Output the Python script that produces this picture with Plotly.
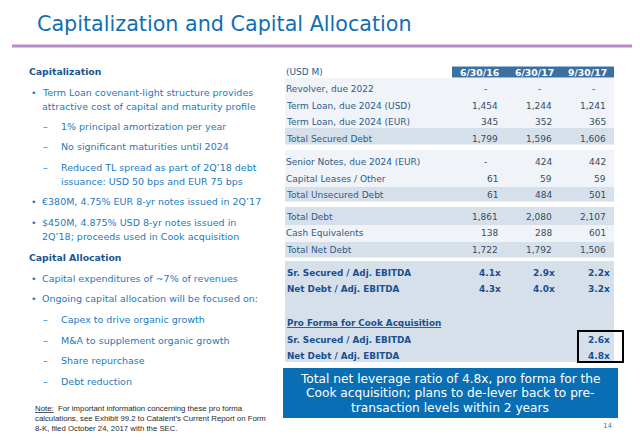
import plotly.graph_objects as go

# ---------------- data ----------------
title = "Capitalization and Capital Allocation"
col_headers = ["6/30/16", "6/30/17", "9/30/17"]
unit_label = "(USD M)"

debt_labels = ["Revolver, due 2022", "Term Loan, due 2024 (USD)", "Term Loan, due 2024 (EUR)",
               "Total Secured Debt", "Senior Notes, due 2024 (EUR)", "Capital Leases / Other",
               "Total Unsecured Debt", "Total Debt", "Cash Equivalents", "Total Net Debt"]
debt_6_30_16 = ["-", "1,454", "345", "1,799", "-", "61", "61", "1,861", "138", "1,722"]
debt_6_30_17 = ["-", "1,244", "352", "1,596", "424", "59", "484", "2,080", "288", "1,792"]
debt_9_30_17 = ["-", "1,241", "365", "1,606", "442", "59", "501", "2,107", "601", "1,506"]

ratio_labels = ["Sr. Secured / Adj. EBITDA", "Net Debt / Adj. EBITDA"]
ratio_6_30_16 = ["4.1x", "4.3x"]
ratio_6_30_17 = ["2.9x", "4.0x"]
ratio_9_30_17 = ["2.2x", "3.2x"]

proforma_title = "Pro Forma for Cook Acquisition"
proforma_labels = ["Sr. Secured / Adj. EBITDA", "Net Debt / Adj. EBITDA"]
proforma_9_30_17 = ["2.6x", "4.8x"]

left_lines = [
    ("h", "Capitalization"),
    ("b", "Term Loan covenant-light structure provides"),
    ("c", "attractive cost of capital and maturity profile"),
    ("d", "1% principal amortization per year"),
    ("d", "No significant maturities until 2024"),
    ("d", "Reduced TL spread as part of 2Q\u201918 debt"),
    ("dc", "issuance: USD 50 bps and EUR 75 bps"),
    ("b", "\u20ac380M, 4.75% EUR 8-yr notes issued in 2Q\u201917"),
    ("b", "$450M, 4.875% USD 8-yr notes issued in"),
    ("c", "2Q\u201918; proceeds used in Cook acquisition"),
    ("h", "Capital Allocation"),
    ("b", "Capital expenditures of ~7% of revenues"),
    ("b", "Ongoing capital allocation will be focused on:"),
    ("d", "Capex to drive organic growth"),
    ("d", "M&A to supplement organic growth"),
    ("d", "Share repurchase"),
    ("d", "Debt reduction"),
]
note_lines = ["<u>Note:</u>  For important information concerning these pro forma",
              "calculations, see Exhibit 99.2 to Catalent\u2019s Current Report on Form",
              "8-K, filed October 24, 2017 with the SEC."]
callout_lines = ["Total net leverage ratio of 4.8x, pro forma for the",
                 "Cook acquisition; plans to de-lever back to pre-",
                 "transaction levels within 2 years"]
page_number = "14"

# ---------------- layout / styles ----------------
FONT = "DejaVu Sans"
BLUE_TITLE = "rgb(18,110,180)"
HEAD_BLUE = "rgb(25,85,145)"
TEXT_BLUE = "rgb(35,122,192)"
LABEL_BLUE = "rgb(45,92,138)"
VAL_COL = "rgb(55,75,95)"
RATIO_BLUE = "rgb(25,80,145)"
LIGHT = "rgb(240,243,247)"
DARK = "rgb(214,224,234)"

left_y = [71, 92, 106, 126.7, 146.7, 167.7, 181, 201.7, 222.7, 236.7,
          257.3, 278.3, 298.3, 319, 340, 360.7, 381]
debt_y = [89, 105.7, 122.3, 139, 162.3, 179, 195, 216.7, 233.3, 250]
ratio_y = [272.7, 289.3]
pf_title_y = 323.3
pf_y = [340, 356]
col_right = [500, 554, 608.3]
ratio_right = [502.7, 557, 611.7]
col_center = [479, 534, 587]

fig = go.Figure()
fig.add_trace(go.Scatter(x=[8, 640], y=[8, 441], mode="markers",
                         marker=dict(opacity=0), hoverinfo="skip", showlegend=False))

shapes = []
def rect(x0, y0, x1, y1, color, line=None):
    d = dict(type="rect", xref="x", yref="y", x0=x0, y0=y0, x1=x1, y1=y1,
             fillcolor=color, layer="below")
    d["line"] = line if line else dict(width=0)
    shapes.append(d)

# purple rule
shapes.append(dict(type="line", xref="x", yref="y", x0=12, x1=640, y0=46, y1=46,
                   line=dict(color="rgb(182,142,196)", width=3)))
# table backgrounds
TX0, TX1 = 285, 614
rect(TX0, 78, TX1, 128, LIGHT)
rect(TX0, 128, TX1, 144.5, DARK)
rect(TX0, 150, TX1, 187, LIGHT)
rect(TX0, 187, TX1, 201.5, DARK)
rect(TX0, 207, TX1, 225, DARK)
rect(TX0, 225, TX1, 242, LIGHT)
rect(TX0, 242, TX1, 257.5, DARK)
rect(TX0, 261, TX1, 362, DARK)
# header bar
rect(452, 66.5, TX1, 77.5, "rgb(60,112,160)")
# black highlight box
shapes.append(dict(type="rect", xref="x", yref="y", x0=578, x1=623, y0=331, y1=362,
                   line=dict(color="black", width=2), fillcolor="rgba(0,0,0,0)"))
# callout box
rect(283, 368, 618, 418, "rgb(10,110,180)")

def ann(x, y, text, size=9, color=LABEL_BLUE, anchor="left", family=FONT):
    fig.add_annotation(x=x, y=y, xref="x", yref="y", text=text, showarrow=False,
                       xanchor=anchor, yanchor="middle",
                       font=dict(family=family, size=size, color=color))

# title
ann(35, 24, title, size=20.7, color=BLUE_TITLE)

# left column
LS = 9.5
for (kind, txt), y in zip(left_lines, left_y):
    if kind == "h":
        ann(27, y, "<b>" + txt + "</b>", size=9.3, color=HEAD_BLUE)
    elif kind == "b":
        ann(29, y, "\u2022", size=LS, color=TEXT_BLUE)
        ann(40, y, txt, size=LS, color=TEXT_BLUE)
    elif kind == "c":
        ann(40, y, txt, size=LS, color=TEXT_BLUE)
    elif kind == "d":
        ann(41, y, "\u2013", size=LS, color=TEXT_BLUE)
        ann(58.5, y, txt, size=LS, color=TEXT_BLUE)
    elif kind == "dc":
        ann(58.5, y, txt, size=LS, color=TEXT_BLUE)

for txt, y in zip(note_lines, [408.3, 418.3, 428]):
    ann(33, y, txt, size=7.8, color="rgb(40,40,40)", family="Liberation Sans")

# table header
ann(284, 72, unit_label, size=9, color=LABEL_BLUE)
for h, cx in zip(col_headers, col_center):
    ann(cx, 72, "<b>" + h + "</b>", size=9.3, color="white", anchor="center")

# debt rows
for i, (lab, y) in enumerate(zip(debt_labels, debt_y)):
    ann(284, y, lab, size=9, color=LABEL_BLUE)
    for vals, xr in zip([debt_6_30_16, debt_6_30_17, debt_9_30_17], col_right):
        v = vals[i]
        if v == "-":
            ann(xr - 11, y, v, size=9, color=VAL_COL, anchor="right")
        else:
            ann(xr, y, v, size=9, color=VAL_COL, anchor="right")

# ratio rows
for i, (lab, y) in enumerate(zip(ratio_labels, ratio_y)):
    ann(285, y, "<b>" + lab + "</b>", size=8.8, color=RATIO_BLUE)
    for vals, xr in zip([ratio_6_30_16, ratio_6_30_17, ratio_9_30_17], ratio_right):
        ann(xr, y, "<b>" + vals[i] + "</b>", size=9, color=RATIO_BLUE, anchor="right")

# pro forma
ann(285, pf_title_y, "<b><u>" + proforma_title + "</u></b>", size=8.8, color=RATIO_BLUE)
for i, (lab, y) in enumerate(zip(proforma_labels, pf_y)):
    ann(285, y, "<b>" + lab + "</b>", size=8.8, color=RATIO_BLUE)
    ann(ratio_right[2], y, "<b>" + proforma_9_30_17[i] + "</b>", size=9,
        color=RATIO_BLUE, anchor="right")

# callout text
for txt, y in zip(callout_lines, [379, 393.3, 407.7]):
    ann(450, y, txt, size=12.2, color="white", anchor="center")

ann(607, 426, page_number, size=7, color="rgb(60,120,190)", anchor="center")

# The page body has an 8px margin; size the figure and axis ranges so that
# axis coordinates equal screen pixels of the 640x441 window.
fig.update_layout(
    width=632, height=433,
    margin=dict(l=0, r=0, t=0, b=0),
    paper_bgcolor="white", plot_bgcolor="white",
    shapes=shapes,
    xaxis=dict(range=[8, 640], visible=False, fixedrange=True),
    yaxis=dict(range=[441, 8], visible=False, fixedrange=True),
    showlegend=False,
)
fig.write_html("out.html")
